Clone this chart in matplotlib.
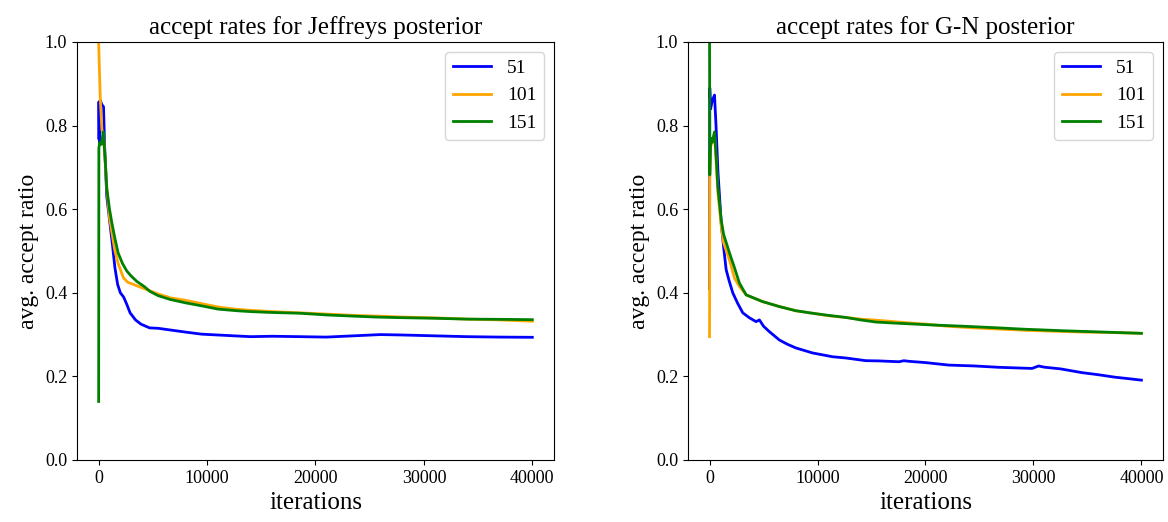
import matplotlib
matplotlib.use("Agg")
import matplotlib.pyplot as plt

plt.rcParams["font.family"] = ["Liberation Serif", "DejaVu Serif"]

labels = ["51", "101", "151"]
colours = ["blue", "orange", "green"]

# Jeffreys posterior: (iteration, avg accept ratio) per chain length
jef_x_51 = [0, 30, 80, 150, 300, 450, 550, 750, 1000, 1250, 1500, 1750, 2000, 2300, 2600,
            2900, 3400, 3900, 4700, 5500, 6600, 8000, 9500, 11000, 12500, 14000, 16000,
            18600, 21000, 23500, 26000, 28000, 31000, 34000, 37000, 40000]
jef_y_51 = [0.77, 0.857, 0.76, 0.86, 0.85, 0.845, 0.75, 0.63, 0.575, 0.52, 0.46, 0.42, 0.40,
            0.39, 0.372, 0.352, 0.335, 0.325, 0.316, 0.315, 0.311, 0.306, 0.301, 0.299, 0.297,
            0.295, 0.296, 0.295, 0.294, 0.297, 0.300, 0.299, 0.297, 0.295, 0.294, 0.2935]

jef_x_101 = [0, 50, 150, 300, 450, 750, 1000, 1250, 1500, 1800, 2300, 2700, 3500, 4700, 5500,
             6600, 8000, 9500, 11000, 12500, 14000, 16000, 18600, 21000, 23500, 26000, 28000,
             31000, 34000, 37000, 40000]
jef_y_101 = [1.0, 0.95, 0.865, 0.79, 0.78, 0.65, 0.58, 0.54, 0.5, 0.47, 0.435, 0.425, 0.417,
             0.405, 0.397, 0.388, 0.382, 0.374, 0.366, 0.361, 0.358, 0.355, 0.352, 0.349,
             0.346, 0.344, 0.342, 0.340, 0.337, 0.335, 0.332]

jef_x_151 = [0, 20, 100, 250, 420, 600, 750, 1000, 1220, 1500, 1800, 2200, 2600, 3000, 3530,
             4200, 4750, 5500, 6600, 8000, 9650, 11000, 12760, 14000, 15800, 18600, 21000,
             23200, 25500, 27800, 31000, 34000, 37000, 40000]
jef_y_151 = [0.14, 0.746, 0.76, 0.755, 0.785, 0.72, 0.65, 0.6, 0.567, 0.53, 0.495, 0.47, 0.452,
             0.44, 0.427, 0.415, 0.403, 0.393, 0.384, 0.376, 0.368, 0.361, 0.357, 0.355, 0.353,
             0.351, 0.347, 0.3445, 0.342, 0.3405, 0.339, 0.337, 0.3365, 0.3357]

# G-N posterior
gn_x_51 = [0, 20, 100, 250, 460, 600, 770, 1080, 1300, 1540, 1800, 2150, 2600, 3080, 3700,
           4310, 4620, 5000, 5540, 6470, 7200, 8000, 9550, 11390, 12630, 14470, 15700, 17550,
           18000, 18500, 20000, 22170, 24500, 26790, 29870, 30480, 31000, 32500, 34490, 36000,
           37570, 39000, 40000]
gn_y_51 = [0.41, 0.89, 0.84, 0.86, 0.873, 0.80, 0.694, 0.567, 0.51, 0.455, 0.43, 0.40, 0.375,
           0.352, 0.34, 0.331, 0.335, 0.32, 0.307, 0.287, 0.277, 0.268, 0.256, 0.247, 0.244,
           0.2376, 0.237, 0.235, 0.2375, 0.236, 0.233, 0.227, 0.225, 0.2217, 0.219, 0.2249,
           0.222, 0.218, 0.209, 0.204, 0.198, 0.194, 0.191]

gn_x_101 = [0, 20, 100, 250, 460, 600, 770, 1080, 1300, 1850, 2310, 2770, 3390, 4900, 6470,
            8000, 9550, 11000, 12630, 14000, 15700, 17500, 20000, 22000, 24500, 27000, 29500,
            32000, 34500, 37000, 40000]
gn_y_101 = [0.295, 0.675, 0.75, 0.76, 0.78, 0.72, 0.64, 0.56, 0.52, 0.478, 0.435, 0.415, 0.395,
            0.379, 0.367, 0.357, 0.351, 0.345, 0.341, 0.337, 0.334, 0.330, 0.325, 0.32, 0.316,
            0.313, 0.31, 0.308, 0.306, 0.305, 0.303]

gn_x_151 = [0, 20, 100, 250, 460, 600, 770, 1080, 1300, 1850, 2310, 2770, 3390, 4900, 6470,
            8000, 9550, 11000, 12630, 14000, 15400, 17500, 20600, 23500, 26800, 29000, 32950,
            36500, 40000]
gn_y_151 = [1.0, 0.682, 0.77, 0.76, 0.785, 0.73, 0.653, 0.574, 0.54, 0.495, 0.46, 0.423, 0.395,
            0.379, 0.367, 0.357, 0.351, 0.346, 0.341, 0.335, 0.330, 0.327, 0.323, 0.320, 0.316,
            0.313, 0.309, 0.306, 0.303]

panels = [
    ("accept rates for Jeffreys posterior",
     [(jef_x_51, jef_y_51), (jef_x_101, jef_y_101), (jef_x_151, jef_y_151)]),
    ("accept rates for G-N posterior",
     [(gn_x_51, gn_y_51), (gn_x_101, gn_y_101), (gn_x_151, gn_y_151)]),
]

fig = plt.figure(figsize=(11.68, 5.22), dpi=100)
axes = [fig.add_axes([0.0659, 0.1188, 0.4084, 0.8008]),
        fig.add_axes([0.589, 0.1188, 0.4067, 0.8008])]

for ax, (title, series) in zip(axes, panels):
    for (x, y), lab, c in zip(series, labels, colours):
        ax.plot(x, y, color=c, linewidth=2, label=lab)
    ax.set_ylim(0, 1)
    ax.set_xticks([0, 10000, 20000, 30000, 40000])
    ax.set_yticks([0.0, 0.2, 0.4, 0.6, 0.8, 1.0])
    ax.tick_params(labelsize=13)
    ax.set_xlabel("iterations", fontsize=18)
    ax.set_ylabel("avg. accept ratio", fontsize=17)
    ax.set_title(title, fontsize=18)
    ax.legend(loc="upper right", fontsize=14)

fig.savefig("out.png", dpi=100)
